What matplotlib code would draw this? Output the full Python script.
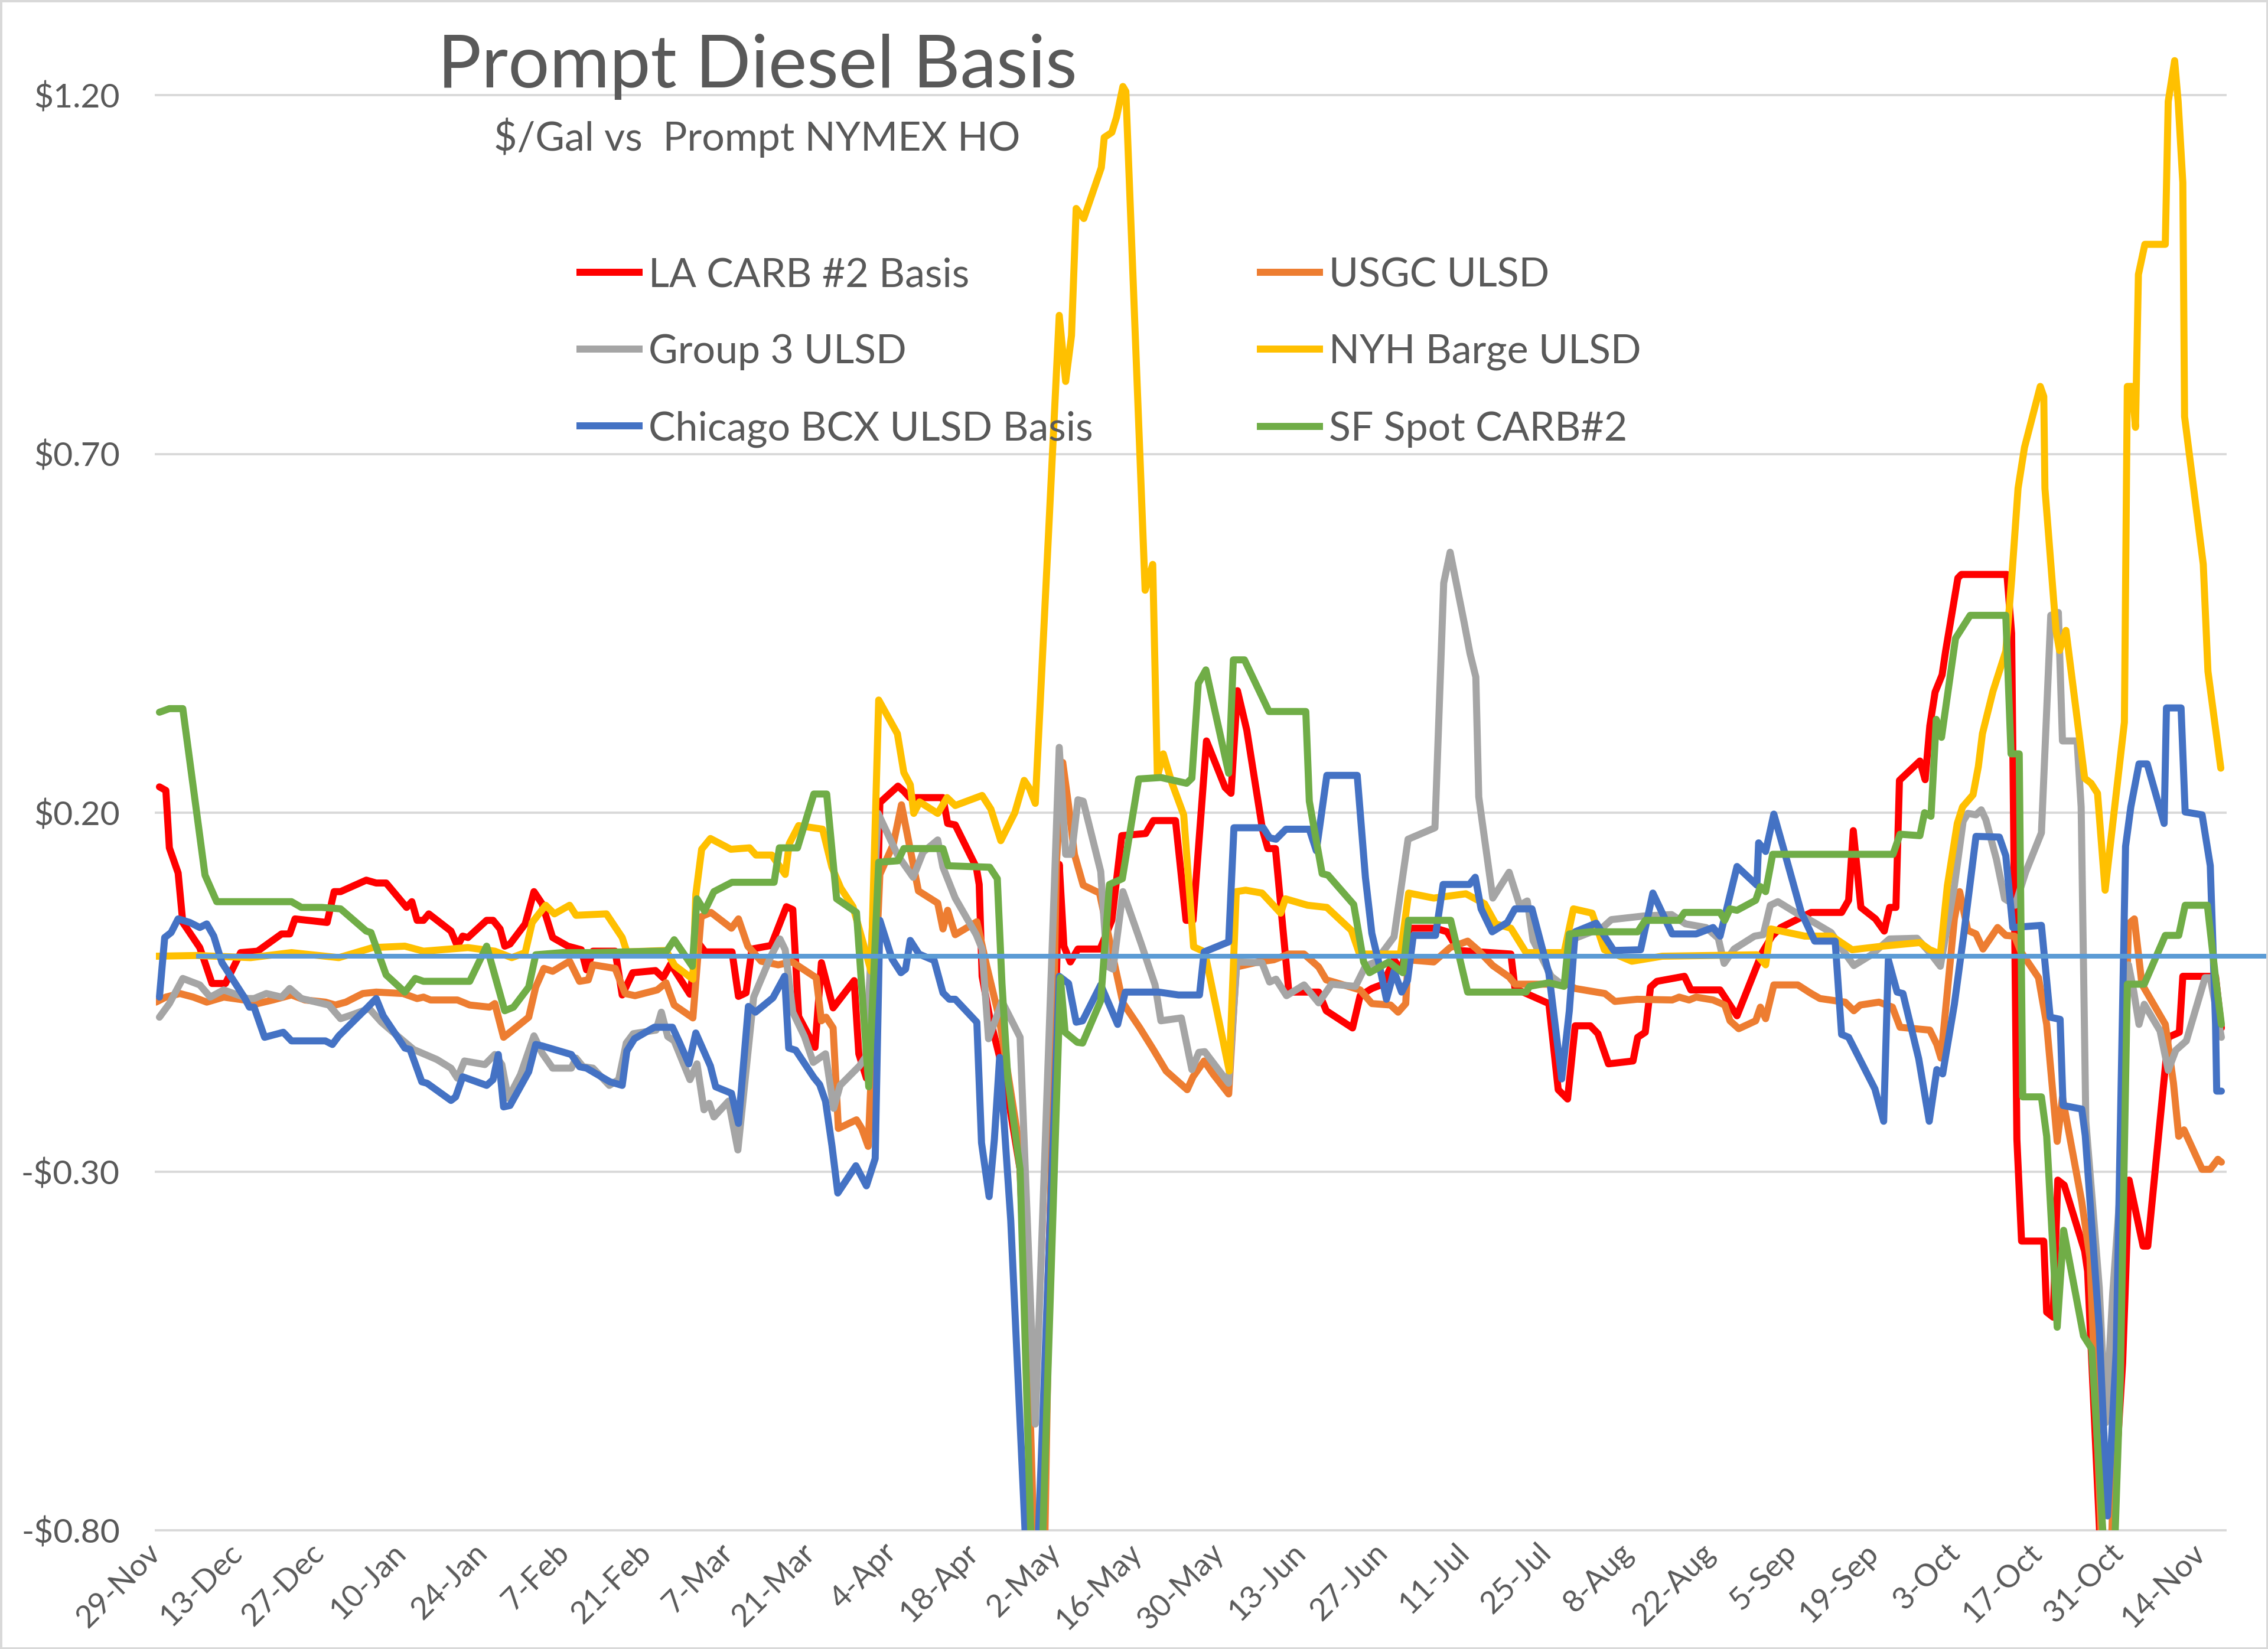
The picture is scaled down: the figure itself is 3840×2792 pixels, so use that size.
import numpy as np
import matplotlib
matplotlib.use("Agg")
import matplotlib.pyplot as plt
import matplotlib.dates as mdates
from matplotlib.ticker import FuncFormatter
from matplotlib.lines import Line2D
from matplotlib.patches import Rectangle

plt.rcParams['font.family'] = ['Lato', 'DejaVu Sans']

START_DATE = '2021-11-29'

# ---------------- data (day offsets from START_DATE, $/gal vs prompt NYMEX HO) -------------
la_days = [0.6,1.7,2.3,3.8,4.6,7.5,8.4,9.6,11.9,14.5,17.4,21.5,22.9,23.8,29.3,30.5,31.6,36,37.7,39.4,42.9,43.8,44.7,45.8,46.7,50.5,51.6,52.5,53.4,56.6,57.7,58.9,59.7,60.6,63.2,64.7,66.1,67.9,70.5,72.8,73.7,74.8,78.6,79.8,81.6,85.5,86.8,88.1,91.4,92.7,94,98.6,99.7,101,102,105.3,107.9,109,110,112.8,113.9,115.9,119.5,120.3,121.6,122.8,123.9,127,128,129,134.7,135.5,136.8,140.4,140.9,141.4,142.7,145.3,147.9,148.9,150,151,153.3,154.6,155.4,156.5,157.8,161.6,163.6,165.3,169.4,170.7,174.5,176.3,177.5,179.8,183,184,185.1,186.7,189.4,190.3,191.6,193.9,199,200.3,204.8,206.1,208.1,210,211.9,213.2,214.5,219,221,222.9,231.9,232.6,238.4,240,241.6,242.9,245.5,246.8,248.6,252.8,253.6,254.9,255.8,256.9,261.6,262.7,267.7,270.6,274.9,276.6,278.1,283.3,288.5,289.7,290.5,291.8,294.3,295.8,296.7,297.8,298.4,301.9,302.8,303.6,304.5,305.7,306.3,308.4,309,316.8,317.6,318.5,319.3,323.1,323.6,324.7,325.5,326.6,330.1,330.6,333.1,334.2,336.6,337.7,340.1,340.9,344.4,346.3,346.9,352.5,353.5]
la_vals = [0.236,0.231,0.151,0.116,0.047,0.012,-0.009,-0.038,-0.038,0.005,0.007,0.031,0.031,0.052,0.047,0.090,0.090,0.106,0.102,0.102,0.068,0.076,0.050,0.050,0.059,0.035,0.014,0.028,0.026,0.050,0.050,0.038,0.014,0.017,0.045,0.090,0.073,0.026,0.014,0.009,-0.019,0.007,0.007,-0.054,-0.023,-0.020,-0.030,-0.011,-0.053,0.020,0.006,0.006,-0.056,-0.051,0.010,0.015,0.069,0.065,-0.084,-0.127,-0.009,-0.072,-0.034,-0.136,-0.170,-0.150,0.214,0.237,0.230,0.221,0.221,0.185,0.183,0.124,0.100,-0.028,-0.085,-0.170,-0.297,-0.510,-0.880,-0.880,-0.297,0.128,0.014,-0.008,0.010,0.010,0.050,0.168,0.171,0.189,0.189,0.050,0.050,0.300,0.235,0.227,0.370,0.315,0.176,0.150,0.150,-0.050,-0.050,-0.076,-0.100,-0.055,-0.045,-0.039,-0.005,-0.021,0.039,0.039,0.034,0.008,0.003,-0.045,-0.066,-0.186,-0.199,-0.097,-0.097,-0.108,-0.150,-0.146,-0.113,-0.106,-0.043,-0.035,-0.028,-0.047,-0.047,-0.083,0.005,0.028,0.040,0.061,0.061,0.078,0.175,0.068,0.052,0.035,0.068,0.068,0.245,0.272,0.246,0.321,0.368,0.392,0.425,0.527,0.532,0.532,0.450,-0.255,-0.397,-0.397,-0.496,-0.503,-0.312,-0.319,-0.411,-0.439,-0.880,-0.880,-0.567,-0.312,-0.404,-0.404,-0.113,-0.106,-0.028,-0.028,-0.100]

usgc_days = [0,1.7,4.1,6.4,8.7,11.6,15.1,17.4,20,23.2,25.5,29,30.7,32.5,35.4,37.7,42.3,44.7,45.8,47,51.6,53.7,57.1,58,59.5,60.9,63.8,65,66.4,67.9,70.8,72.5,74,74.8,78.6,80.3,82,85.8,87.3,88.7,91.9,93.3,95,98.5,99.7,101.3,103.6,106.5,108.9,113,113.9,114.7,115.9,116.8,119.9,120.8,121.9,123.9,126.2,127.6,129.2,130.5,133.8,134.7,135.5,136.8,140.5,142.2,144.3,148.4,150.5,152,154.1,155.2,156.2,157.2,158.7,161.5,162.3,164.3,165.5,168.4,170.7,172.9,176.5,177.5,179.4,181,183.6,184.9,188.7,191.3,193.9,196.5,199,200.3,201.6,206.1,208.1,211.3,212.6,213.9,214.3,218.7,221.5,224.5,226.2,228.8,231.6,232.6,241.6,242.9,248,249.7,253.5,259.5,260.7,262.4,263.6,266.5,268.5,269.4,270.9,273.8,274.6,275.5,276.9,281,283.3,284.8,289.1,290.6,291.7,294.9,297.2,298.5,303.6,304.8,305.5,307.8,308.7,310.1,311.5,312.7,315.2,316.6,318.1,319.2,322.2,323.6,325.4,326.3,329.6,331,333.3,334.5,337.6,338.6,339.9,343.9,345.3,346.2,347.1,350.2,351.6,352.9,353.5]
usgc_vals = [-0.064,-0.057,-0.052,-0.057,-0.064,-0.057,-0.061,-0.066,-0.061,-0.054,-0.061,-0.064,-0.068,-0.064,-0.052,-0.050,-0.052,-0.059,-0.057,-0.061,-0.061,-0.068,-0.071,-0.066,-0.113,-0.104,-0.085,-0.043,-0.017,-0.021,-0.007,-0.035,-0.033,-0.012,-0.017,-0.052,-0.055,-0.047,-0.037,-0.068,-0.086,0.055,0.061,0.039,0.052,0.014,-0.007,-0.012,-0.008,-0.030,-0.090,-0.085,-0.100,-0.240,-0.228,-0.240,-0.265,0.114,0.156,0.211,0.145,0.091,0.074,0.038,0.064,0.030,0.048,-0.014,-0.085,-0.297,-0.880,-0.880,0.128,0.270,0.210,0.142,0.099,0.088,0.057,-0.020,-0.065,-0.100,-0.130,-0.160,-0.186,-0.168,-0.146,-0.165,-0.192,-0.015,-0.008,-0.005,0.003,0.003,-0.015,-0.033,-0.036,-0.047,-0.066,-0.068,-0.078,-0.066,-0.005,-0.008,0.012,0.021,0.009,-0.013,-0.029,-0.039,-0.039,-0.045,-0.052,-0.063,-0.060,-0.061,-0.057,-0.061,-0.057,-0.061,-0.068,-0.090,-0.101,-0.090,-0.071,-0.087,-0.040,-0.040,-0.052,-0.059,-0.064,-0.076,-0.068,-0.064,-0.071,-0.099,-0.103,-0.123,-0.142,0.052,0.090,0.036,0.031,0.010,0.040,0.029,0.028,0.006,-0.030,-0.095,-0.258,-0.197,-0.342,-0.420,-0.880,-0.880,0.045,0.052,-0.039,-0.095,-0.177,-0.251,-0.242,-0.297,-0.297,-0.283,-0.287]

grp3_days = [0.6,2.3,4.6,7.5,9.3,11.6,15.7,16.8,18.9,21.5,22.9,24.9,29.6,31.6,33.1,36.5,38.6,40.6,44.1,48.1,50.5,51.6,52.8,56.3,58,59.2,60.3,62.4,64.7,66.1,67.9,71.1,71.9,73.1,74.8,77.6,79.2,80.5,81.7,85.6,86.5,87.6,88.7,91.4,92.6,93.8,94.7,95.5,98,99.6,102.3,105.3,106.8,107.7,109,111,112.5,114.6,116,117.1,120.4,121.5,123.6,127,129.6,131.3,133.8,134.7,136.8,140.4,141.4,142.5,143.4,144.8,147.9,150.5,154.6,155.7,156.7,157.8,158.7,161.7,162.8,163.8,165.5,168.6,171,172,175.5,177.3,178.5,179.5,183.6,185,189.3,190.6,191.7,193.5,196.5,199,201.2,205.3,207,208.7,211.9,214.3,218.9,220.4,221.5,223.9,224.9,225.9,226.4,228.8,231.6,233.4,234.7,235.7,238.8,240.9,242.9,247.6,249.1,254.6,259.4,261.8,265.3,267.4,268.4,270.1,273.6,275.1,276.3,277.6,280.6,283.8,286.7,289,290.6,293.6,296.7,301.4,303.6,305.4,307.8,309.3,310.1,311.5,312.4,313.2,315,316.4,318.2,320,322.7,324.3,325.6,326.3,328.8,329.5,330.3,331.7,332.6,333.7,334.9,336.2,337.6,338.5,339.4,340.3,343,344.4,345.7,347.5,350.7,351.6,353.5]
grp3_vals = [-0.085,-0.066,-0.031,-0.040,-0.057,-0.047,-0.059,-0.059,-0.052,-0.057,-0.045,-0.059,-0.068,-0.087,-0.083,-0.073,-0.092,-0.106,-0.130,-0.144,-0.156,-0.170,-0.146,-0.151,-0.137,-0.151,-0.198,-0.165,-0.111,-0.135,-0.156,-0.156,-0.142,-0.154,-0.156,-0.180,-0.172,-0.121,-0.108,-0.103,-0.078,-0.112,-0.118,-0.172,-0.150,-0.214,-0.205,-0.224,-0.202,-0.270,-0.057,0.001,0.024,0.009,-0.078,-0.112,-0.148,-0.136,-0.212,-0.180,-0.153,-0.140,0.199,0.140,0.110,0.145,0.162,0.124,0.081,0.030,0.010,-0.115,-0.095,-0.063,-0.113,-0.652,0.291,0.142,0.142,0.218,0.216,0.118,-0.014,-0.018,0.090,0.018,-0.040,-0.090,-0.086,-0.158,-0.134,-0.133,-0.177,-0.008,-0.009,-0.036,-0.032,-0.055,-0.040,-0.065,-0.039,-0.042,-0.014,-0.008,0.027,0.163,0.179,0.520,0.563,0.465,0.422,0.389,0.222,0.081,0.117,0.071,0.077,0.022,-0.028,-0.041,0.025,0.040,0.051,0.056,0.058,0.045,0.040,0.025,-0.010,0.010,0.028,0.030,0.071,0.076,0.061,0.047,0.033,0.005,-0.013,0.002,0.024,0.025,0.005,-0.014,0.098,0.188,0.199,0.197,0.204,0.190,0.135,0.080,0.071,0.117,0.172,0.475,0.479,0.300,0.300,0.208,-0.230,-0.370,-0.462,-0.650,-0.470,-0.324,-0.012,-0.049,-0.095,-0.067,-0.104,-0.159,-0.131,-0.118,-0.030,-0.030,-0.113]

nyh_days = [0,7,16.2,23.2,26.7,31.3,37.1,42.6,45.8,53.4,58,60.9,63.2,64.4,66.7,68.2,70.8,71.9,77.1,79.8,80.6,87.3,88.8,91.9,92.4,93.4,94.9,98.4,101.6,102.7,105.4,107.7,108.4,110,114.1,115.7,117.2,119.3,122.4,123.7,126.9,128,129.1,129.7,130.7,133.8,135.4,136.8,141.4,142.9,144.6,147,148.6,149.5,150.5,154.6,155.7,156.7,157.5,158.8,161.8,162.3,163.6,164.4,165.5,166,169.3,170.6,171.4,172.4,173.9,175.9,177.6,179.5,183.7,184.9,186.5,189.3,192.5,193.3,197.1,200.4,204.6,206,213,214.4,218.7,224.2,227.4,229.3,231.9,234.5,241,242.6,245.8,247.9,252.6,257.8,274,275.5,276.4,282.2,286.8,290.3,295.5,301.9,303.6,305.4,306.6,308.3,309.2,311,311.9,312.6,314.4,316.6,317.6,318.7,319.8,322.5,323.1,323.3,325.2,325.8,326.9,330.1,331.2,332.3,333.6,335.5,336.9,337.4,338.2,338.8,339.3,340.4,343.9,344.4,345.5,346.1,346.9,347.2,350.4,351.2,353.4]
nyh_vals = [0.000,0.001,-0.002,0.005,0.002,-0.002,0.012,0.014,0.007,0.012,0.007,-0.002,0.005,0.047,0.071,0.059,0.071,0.057,0.059,0.026,0.006,0.008,-0.013,-0.032,0.086,0.149,0.164,0.149,0.151,0.141,0.141,0.114,0.157,0.182,0.177,0.124,0.095,0.069,-0.021,0.357,0.310,0.256,0.239,0.199,0.215,0.199,0.221,0.210,0.224,0.205,0.161,0.200,0.245,0.234,0.213,0.893,0.801,0.865,1.042,1.028,1.099,1.141,1.148,1.169,1.212,1.205,0.510,0.546,0.250,0.282,0.241,0.197,0.013,0.006,-0.160,0.090,0.092,0.088,0.060,0.080,0.071,0.068,0.036,0.003,0.003,0.088,0.081,0.087,0.073,0.045,0.039,0.005,0.005,0.066,0.060,0.009,-0.007,0.000,0.002,-0.012,0.038,0.028,0.028,0.009,0.014,0.019,0.009,0.003,0.098,0.185,0.208,0.225,0.264,0.310,0.369,0.425,0.525,0.652,0.709,0.794,0.780,0.652,0.454,0.426,0.454,0.248,0.241,0.227,0.092,0.227,0.326,0.794,0.794,0.737,0.950,0.992,0.992,1.191,1.248,1.191,1.078,0.752,0.546,0.397,0.262]

chi_days = [0.6,1.5,2.6,3.8,5.8,7.5,8.7,9.9,11.3,15.1,16,16.8,18.6,21.8,23.2,29,30.2,31.3,36,37.7,38.9,42.6,43.5,45.5,46.4,50.5,51.3,52.5,56.6,57.7,58.6,59.5,60.6,63.8,65,66.1,71.1,72.5,73.7,77.7,79.8,80.6,81.9,85.3,88.4,89.6,91.2,92.4,94.9,95.8,98.5,99.7,101.4,102.6,105.6,107.6,108.3,109.5,112.6,113.6,114.6,115.7,116.7,119.8,121.6,123.1,123.9,126,127.5,128.3,129.1,130.6,133.2,134.7,135.8,136.8,140.5,141.3,142.6,143.5,144.4,146.3,149.2,150.7,154.6,156.2,157.5,158.6,161.7,164.6,165.9,171.6,175,178.6,179.4,183.6,184.5,189.5,190.6,191.7,193.4,197.4,198.6,200.4,205.6,207,208.1,209.4,210.6,211.9,213.2,214.2,215.2,219,220.3,224.8,225.8,226.8,228.7,231.3,232.6,235.5,238.4,240.6,241.9,242.9,246.5,247.9,249.5,254.1,256.2,259.5,263.6,266.5,267.7,270.6,274,274.3,275.5,276.9,278.7,281.6,283.9,287.4,288.5,289.7,294.2,295.7,296.5,298,299,301.7,303.5,304.8,305.8,307.8,309.4,311.5,315.5,316.6,317.8,322.7,324.2,325.9,326.4,329.6,330.2,332.6,334,335.5,337.1,338,339.4,340.8,343.7,344.1,346.6,347.3,350.2,351.6,352.5,352.7,353.5]
chi_vals = [-0.057,0.026,0.033,0.052,0.047,0.040,0.045,0.028,-0.009,-0.057,-0.071,-0.071,-0.113,-0.106,-0.118,-0.118,-0.123,-0.111,-0.073,-0.059,-0.083,-0.128,-0.130,-0.175,-0.177,-0.201,-0.196,-0.168,-0.180,-0.172,-0.137,-0.210,-0.208,-0.161,-0.123,-0.125,-0.137,-0.154,-0.156,-0.175,-0.180,-0.132,-0.115,-0.099,-0.099,-0.120,-0.150,-0.107,-0.153,-0.182,-0.191,-0.233,-0.070,-0.078,-0.058,-0.028,-0.128,-0.131,-0.169,-0.179,-0.202,-0.264,-0.330,-0.292,-0.320,-0.282,0.050,-0.004,-0.023,-0.018,0.022,0.003,-0.006,-0.051,-0.060,-0.060,-0.092,-0.260,-0.335,-0.255,-0.141,-0.368,-0.880,-0.880,-0.028,-0.038,-0.092,-0.090,-0.040,-0.095,-0.050,-0.050,-0.054,-0.054,0.006,0.020,0.179,0.179,0.165,0.163,0.177,0.177,0.147,0.252,0.252,0.110,0.032,-0.013,-0.060,-0.021,-0.050,-0.034,0.029,0.029,0.100,0.100,0.110,0.066,0.034,0.047,0.066,0.066,-0.024,-0.171,-0.076,0.034,0.046,0.028,0.008,0.009,0.088,0.031,0.031,0.040,0.028,0.125,0.099,0.158,0.146,0.198,0.146,0.061,0.021,0.021,-0.109,-0.113,-0.185,-0.230,-0.005,-0.050,-0.052,-0.143,-0.230,-0.158,-0.164,-0.067,0.030,0.167,0.166,0.140,0.040,0.043,-0.085,-0.088,-0.208,-0.213,-0.250,-0.520,-0.780,-0.550,0.153,0.208,0.268,0.268,0.185,0.346,0.346,0.201,0.197,0.126,-0.095,-0.188,-0.188]

sf_days = [0.6,2.3,4.6,8.4,10.4,23.2,24.9,28.4,31.6,36,36.8,39.4,42.6,44.4,45.8,53.7,56.6,59.7,61.2,63.8,65,69.6,74.8,85.8,87.4,88.7,91.8,92.6,93.9,95.5,98.6,105.8,106.7,109.8,112.6,114.8,116.5,119.9,122,123.7,127,128,134.7,135.6,142.7,144,144.8,145.8,147.9,150,151.5,154.8,155.6,157.7,158.6,161.7,163.2,165.4,168.2,172,176.4,177.3,178.4,179.7,183.6,184.4,186.3,190.5,196.8,197.4,199.6,200.6,205,206.7,207.7,211,213.4,214.4,221.6,224.5,234.5,235.1,238.4,241,241.9,245.5,253.6,254.9,260.7,261.6,267.7,268.5,269.4,270.6,273.8,274.6,275.5,276.7,297.3,298.5,301.9,302.7,303.8,304.7,305.6,308,310.5,316.6,317.5,318.9,319.5,322.7,323.6,325.4,326.5,329.9,331.3,333.8,335,336.2,337.4,340.3,343.9,346.2,347.3,351.1,352.5,353.5]
sf_vals = [0.340,0.345,0.345,0.113,0.076,0.076,0.068,0.068,0.066,0.035,0.033,-0.026,-0.050,-0.031,-0.035,-0.035,0.014,-0.076,-0.071,-0.043,0.002,0.005,0.005,0.007,0.007,0.023,-0.014,0.080,0.063,0.090,0.103,0.103,0.151,0.151,0.226,0.226,0.080,0.061,-0.182,0.131,0.133,0.150,0.150,0.126,0.124,0.108,-0.038,-0.170,-0.297,-0.880,-0.880,-0.030,-0.106,-0.120,-0.121,-0.062,0.100,0.108,0.247,0.249,0.241,0.248,0.380,0.399,0.255,0.413,0.413,0.341,0.341,0.216,0.115,0.113,0.072,-0.008,-0.023,-0.008,-0.023,0.050,0.050,-0.050,-0.050,-0.042,-0.037,-0.042,0.031,0.034,0.034,0.050,0.050,0.061,0.061,0.050,0.066,0.064,0.078,0.097,0.090,0.142,0.142,0.170,0.168,0.200,0.195,0.330,0.305,0.443,0.475,0.475,0.282,0.282,-0.196,-0.196,-0.251,-0.517,-0.382,-0.529,-0.547,-0.880,-0.880,-0.590,-0.039,-0.039,0.029,0.029,0.071,0.071,-0.030,-0.095]

series_names = ['LA CARB #2 Basis', 'USGC ULSD', 'Group 3 ULSD',
                'NYH Barge ULSD', 'Chicago BCX ULSD Basis', 'SF Spot CARB#2']
tick_day_offsets = list(range(0, 351, 14))
y_tick_values = [-0.80, -0.30, 0.20, 0.70, 1.20]
zero_line_start_day = 7.25
title_text = 'Prompt Diesel Basis'
subtitle_text = '$/Gal vs  Prompt NYMEX HO'

# ---------------- styling ----------------
colors = ['#FF0000', '#ED7D31', '#A5A5A5', '#FFC000', '#4472C4', '#70AD47']
zero_color = '#5B9BD5'
text_color = '#595959'
grid_color = '#D9D9D9'
LW = 8.6

W, H = 3840, 2792
fig = plt.figure(figsize=(W / 100, H / 100), dpi=100)
ax_left, ax_right = 264, 3768
ax_bottom_px, ax_top_px = 2591, 39.5
ax = fig.add_axes([ax_left / W, 1 - ax_bottom_px / H, (ax_right - ax_left) / W,
                   (ax_bottom_px - ax_top_px) / H])

base = mdates.date2num(np.datetime64(START_DATE))
series = [(la_days, la_vals), (usgc_days, usgc_vals), (grp3_days, grp3_vals),
          (nyh_days, nyh_vals), (chi_days, chi_vals), (sf_days, sf_vals)]
for i, ((d, v), name, c) in enumerate(zip(series, series_names, colors)):
    ax.plot(base + np.asarray(d, dtype=float), np.asarray(v, dtype=float), color=c, lw=LW,
            solid_joinstyle='round', solid_capstyle='round', label=name, zorder=3 + i)

x_min, x_max = base, base + 354.2
ax.set_xlim(x_min, x_max)
ax.set_ylim(-0.80, 1.30)

# zero reference line, extends to chart edge
frac_start = (base + zero_line_start_day - x_min) / (x_max - x_min)
frac_end = (W - ax_left) / (ax_right - ax_left)
ax.axhline(0, xmin=frac_start, xmax=frac_end, color=zero_color, lw=5.8,
           clip_on=False, zorder=20)

ax.set_yticks(y_tick_values)
ax.yaxis.set_major_formatter(FuncFormatter(
    lambda v, p: ('-' if v < 0 else '') + '$' + f'{abs(v):.2f}'))
ax.yaxis.grid(True, color=grid_color, lw=2.8)
for gl in ax.get_ygridlines():
    gl.set_clip_on(False)
ax.set_axisbelow(True)

ax.set_xticks([base + t for t in tick_day_offsets])
ax.xaxis.set_major_formatter(mdates.DateFormatter('%-d-%b'))
ax.tick_params(axis='y', length=0, pad=44, labelsize=41, labelcolor=text_color)
ax.tick_params(axis='x', length=0, pad=22, labelsize=38, labelcolor=text_color)
for lab in ax.get_xticklabels():
    lab.set_rotation(45)
    lab.set_ha('right')
    lab.set_va('center')
    lab.set_rotation_mode('anchor')
for s in ax.spines.values():
    s.set_visible(False)

# title
fig.text(1282 / W, 1 - 148 / H, title_text, ha='center', va='baseline',
         fontsize=89, color=text_color)
fig.text(1282 / W, 1 - 255 / H, subtitle_text, ha='center', va='baseline',
         fontsize=49, color=text_color)

# legend: two columns
handles = [Line2D([], [], color=c, lw=LW, solid_capstyle='butt') for c in colors]
col1 = [0, 2, 4]
col2 = [1, 3, 5]
for idxs, x0 in ((col1, 976), (col2, 2128)):
    fig.legend([handles[i] for i in idxs], [series_names[i] for i in idxs],
               loc='upper left', bbox_to_anchor=(x0 / W, 1 - 435 / H),
               bbox_transform=fig.transFigure, frameon=False, borderpad=0,
               borderaxespad=0, handlelength=1.65, handletextpad=0.15,
               labelspacing=1.0, fontsize=49, labelcolor=text_color)

# chart border
fig.patches.append(Rectangle((0, 0), 1, 1, transform=fig.transFigure, fill=False,
                             edgecolor=grid_color, lw=5, zorder=100))

fig.savefig('out.png', dpi=100)
